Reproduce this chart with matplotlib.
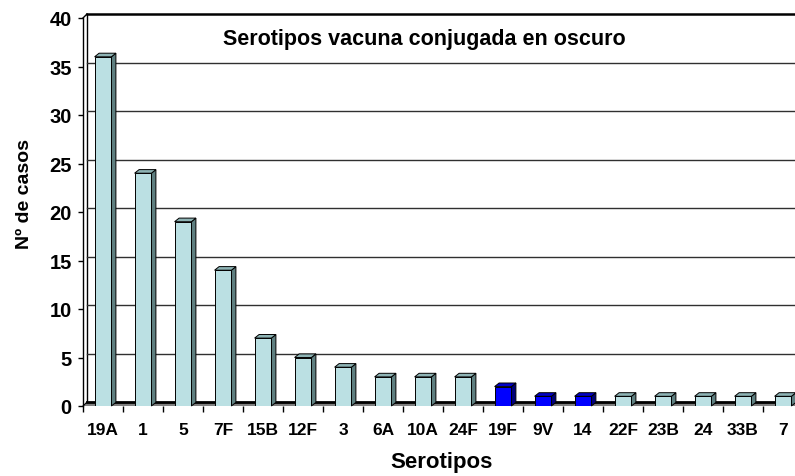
import matplotlib
matplotlib.use("Agg")
import matplotlib.pyplot as plt
from matplotlib.patches import Polygon
import numpy as np

categories = ["19A", "1", "5", "7F", "15B", "12F", "3", "6A", "10A", "24F",
              "19F", "9V", "14", "22F", "23B", "24", "33B", "7"]
cases = [36, 24, 19, 14, 7, 5, 4, 3, 3, 3, 2, 1, 1, 1, 1, 1, 1, 1]
in_vaccine = [False] * 10 + [True] * 3 + [False] * 5
yticks = [0, 5, 10, 15, 20, 25, 30, 35, 40]
title = "Serotipos vacuna conjugada en oscuro"

FONT = "Liberation Sans"
W, H = 795, 477
fig = plt.figure(figsize=(W / 100, H / 100), dpi=100)
ax = fig.add_axes([83 / W, (H - 407) / H, 720 / W, 388 / H])
n = len(categories)
ax.set_xlim(-0.5, n - 0.5)
ax.set_ylim(0, 40)
ax.set_facecolor("none")

# pixel -> data conversions
px_x = n / 720
px_y = 40 / 388
wdx, wdy = 4 * px_x, 4 * px_y      # wall depth
bdx, bdy = 4.5 * px_x, 3.6 * px_y  # bar depth

x0, x1 = -0.5, n - 0.5
# floor
ax.add_patch(Polygon([(x0, 0), (x1 + 1, 0), (x1 + 1 + wdx, wdy), (x0 + wdx, wdy)],
                     closed=True, facecolor="#808080", edgecolor="none", zorder=1, clip_on=False))
ax.plot([x0 + wdx, x1 + 1], [wdy, wdy], color="black", lw=2, zorder=1.5, clip_on=False)
ax.plot([x0, x0 + wdx], [0, wdy], color="black", lw=0.8, zorder=1.5, clip_on=False)
# back wall
ax.plot([x0 + wdx, x0 + wdx], [wdy, 40 + wdy], color="black", lw=1, zorder=1, clip_on=False)
for v in yticks[1:-1]:
    ax.plot([x0 + wdx, x1 + 1], [v + wdy, v + wdy], color="#303030", lw=1, zorder=1, clip_on=False)
ax.plot([x0 + wdx, x1 + 1], [40 + wdy, 40 + wdy], color="black", lw=1.8, zorder=1, clip_on=False)
ax.plot([x0, x0 + wdx], [40, 40 + wdy], color="black", lw=1, zorder=1, clip_on=False)

# bars
bw = 0.42
xs = np.arange(n)
front = ["#0000FF" if d else "#BBE0E3" for d in in_vaccine]
side = ["#00007A" if d else "#5E7F80" for d in in_vaccine]
top = ["#0000C8" if d else "#8DB3B4" for d in in_vaccine]
ax.bar(xs, cases, width=bw, color=front, edgecolor="black", linewidth=0.7, zorder=3)
for x, v, sc, tc in zip(xs, cases, side, top):
    r = x + bw / 2
    l = x - bw / 2
    ax.add_patch(Polygon([(r, 0), (r + bdx, bdy), (r + bdx, v + bdy), (r, v)], closed=True,
                         facecolor=sc, edgecolor="black", lw=0.7, zorder=2.9, clip_on=False))
    ax.add_patch(Polygon([(l, v), (r, v), (r + bdx, v + bdy), (l + bdx, v + bdy)], closed=True,
                         facecolor=tc, edgecolor="black", lw=0.7, zorder=2.9, clip_on=False))

# axes
for s in ["top", "right", "bottom"]:
    ax.spines[s].set_visible(False)
ax.spines["left"].set_linewidth(1)
ax.set_yticks(yticks)
ax.set_yticklabels([str(v) for v in yticks], fontfamily=FONT, fontweight="bold", fontsize=14.5)
ax.tick_params(axis="y", length=3.6, width=1, pad=4.5, direction="out")
ax.set_xticks(xs)
ax.set_xticklabels(categories, fontfamily=FONT, fontweight="bold", fontsize=12.5)
ax.set_xticks(np.arange(-0.5, n, 1.0), minor=True)
ax.tick_params(axis="x", which="major", length=0, pad=11.5)
ax.tick_params(axis="x", which="minor", length=4.3, width=1, direction="out")

ax.set_xlabel("Serotipos", fontfamily=FONT, fontweight="bold", fontsize=16)
ax.xaxis.set_label_coords((442 - 83) / 720, (407 - 452) / 388)
ax.set_ylabel("Nº de casos", fontfamily=FONT, fontweight="bold", fontsize=14)
ax.yaxis.set_label_coords((33 - 83) / 720, (407 - 194) / 388)
ax.text((424 - 83) / 720, (407 - 40) / 388, title, transform=ax.transAxes,
        ha="center", va="center", fontfamily=FONT, fontweight="bold", fontsize=15.5)

fig.savefig("out.png", dpi=100)
